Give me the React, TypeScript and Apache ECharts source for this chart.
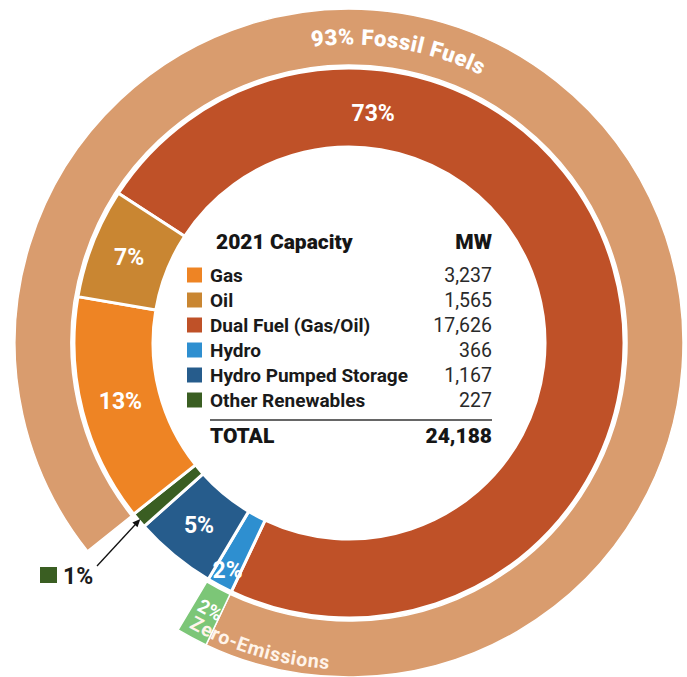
import React, { useEffect, useRef } from 'react';
import * as echarts from 'echarts';

// ---- data (clockwise order of the inner ring, starting with Dual Fuel) ----
const categories = ['Dual Fuel (Gas/Oil)', 'Hydro', 'Hydro Pumped Storage', 'Other Renewables', 'Gas', 'Oil'];
const capacityMW = [17626, 366, 1167, 227, 3237, 1565];
const percentLabels = ['73%', '2%', '5%', '1%', '13%', '7%'];
const sliceColors = ['#BF5128', '#2E8FD0', '#265C8C', '#3A5E22', '#EE8424', '#C98632'];

// table (legend) order and its printed values
const tableOrder = ['Gas', 'Oil', 'Dual Fuel (Gas/Oil)', 'Hydro', 'Hydro Pumped Storage', 'Other Renewables'];
const tableValues = ['3,237', '1,565', '17,626', '366', '1,167', '227'];
const tableTitle = '2021 Capacity';
const tableUnit = 'MW';
const totalText = 'TOTAL';
const totalValue = '24,188';

// outer ring groups
const fossilGroup = ['Gas', 'Oil', 'Dual Fuel (Gas/Oil)'];
const zeroGroup = ['Hydro'];
const fossilLabel = '93% Fossil Fuels';
const zeroPctLabel = '2%';
const zeroLabel = 'Zero-Emissions';

// ---- layout ----
const W = 687, H = 677;
const CX = 349, CY = 343;
const INNER: [number, number] = [196, 275];
const OUTER: [number, number] = [278, 334];
const START = 147;
const FONT = 'Roboto';

const deg = (d: number) => (d * Math.PI) / 180;
const polar = (r: number, a: number): [number, number] => [CX + r * Math.cos(deg(a)), CY - r * Math.sin(deg(a))];

let measureCtx: CanvasRenderingContext2D | null = null;
function measure(text: string, size: number, weight: string | number) {
  if (!measureCtx) measureCtx = document.createElement('canvas').getContext('2d');
  measureCtx!.font = `${weight} ${size}px ${FONT}`;
  return measureCtx!.measureText(text).width;
}

function arcText(text: string, centerDeg: number, r: number, size: number, weight: string | number, color: string, mode: 'top' | 'bottom', spacing = 0) {
  const chars = Array.from(text);
  const widths = chars.map((ch) => measure(ch, size, weight) + spacing);
  const total = widths.reduce((a, b) => a + b, 0);
  const c = deg(centerDeg);
  const els: any[] = [];
  let acc = 0;
  chars.forEach((ch, i) => {
    const off = (acc + widths[i] / 2 - total / 2) / r;
    acc += widths[i];
    if (ch === ' ') return;
    const a = mode === 'top' ? c - off : c + off;
    const rot = mode === 'top' ? a - Math.PI / 2 : a + Math.PI / 2;
    els.push({
      type: 'text',
      x: CX + r * Math.cos(a),
      y: CY - r * Math.sin(a),
      rotation: rot,
      silent: true,
      z: 10,
      style: {
        text: ch, fill: color, fontSize: size, fontWeight: weight, fontFamily: FONT,
        align: 'center', verticalAlign: 'middle', textAlign: 'center', textVerticalAlign: 'middle',
      },
    });
  });
  return els;
}

function txt(text: string, x: number, y: number, size: number, weight: string | number, color: string, align = 'left') {
  return {
    type: 'text', x, y, silent: true, z: 10,
    style: {
      text, fill: color, fontSize: size, fontWeight: weight, fontFamily: FONT,
      align, verticalAlign: 'middle', textAlign: align, textVerticalAlign: 'middle',
    },
  };
}

export default function App() {
  const ref = useRef<HTMLDivElement>(null);

  useEffect(() => {
    if (!ref.current) return;
    const chart = echarts.init(ref.current, undefined, { renderer: 'svg' });

    const total = capacityMW.reduce((a, b) => a + b, 0);
    const valueOf = (n: string) => capacityMW[categories.indexOf(n)];
    const colorOf = (n: string) => sliceColors[categories.indexOf(n)];

    // slice mid angles from the data
    let acc = 0;
    const mids = capacityMW.map((v) => {
      const s = START - (acc / total) * 360;
      acc += v;
      const e = START - (acc / total) * 360;
      return (s + e) / 2;
    });

    // outer ring: start at the first fossil slice (Gas) going clockwise
    const gasIdx = categories.indexOf('Gas');
    const before = capacityMW.slice(0, gasIdx).reduce((a, b) => a + b, 0);
    const outerStart = START - (before / total) * 360;
    const fossilSum = fossilGroup.reduce((a, n) => a + valueOf(n), 0);
    const zeroSum = zeroGroup.reduce((a, n) => a + valueOf(n), 0);
    const restSum = total - fossilSum - zeroSum;

    // inner percent labels (positions)
    const labelAngle: (number | null)[] = [84, null, null, null, null, null];
    const labelRadius = [231, 258, 236, 0, 236, 236];
    const graphics: any[] = [];
    percentLabels.forEach((p, i) => {
      if (i === 3) return;
      const [x, y] = polar(labelRadius[i], labelAngle[i] ?? mids[i]);
      graphics.push(txt(p, x, y, 23, 'bold', '#ffffff', 'center'));
    });

    // callout for Other Renewables
    const [tx, ty] = polar(273, mids[3]);
    const ex = 97, ey = 566;
    const dx = tx - ex, dy = ty - ey;
    const len = Math.hypot(dx, dy);
    const ux = dx / len, uy = dy / len;
    graphics.push({ type: 'line', silent: true, z: 10, shape: { x1: ex, y1: ey, x2: tx - ux * 4, y2: ty - uy * 4 }, style: { stroke: '#111', lineWidth: 1.3 } });
    graphics.push({
      type: 'polygon', silent: true, z: 10,
      shape: { points: [[tx, ty], [tx - ux * 8 - uy * 3.5, ty - uy * 8 + ux * 3.5], [tx - ux * 8 + uy * 3.5, ty - uy * 8 - ux * 3.5]] },
      style: { fill: '#111' },
    });
    graphics.push({ type: 'rect', silent: true, z: 10, shape: { x: 40, y: 567, width: 17, height: 16 }, style: { fill: sliceColors[3] } });
    graphics.push(txt(percentLabels[3], 63, 576, 23, 'bold', '#1c1c1c', 'left'));

    // curved outer labels
    graphics.push(...arcText(fossilLabel, 80.5, 306, 22, 900, '#ffffff', 'top', 0.8));
    graphics.push(...arcText(zeroPctLabel, 242.5, 301, 19, 'bold', '#ffffff', 'bottom'));
    graphics.push(...arcText(zeroLabel, 253.5, 320, 19.5, 'bold', '#FFF4EA', 'bottom', 0.5));

    // center table
    const left = 210, right = 492, sqX = 187;
    graphics.push(txt(tableTitle, 216, 242, 21, 900, '#161616', 'left'));
    graphics.push(txt(tableUnit, right, 242, 21, 900, '#161616', 'right'));
    tableOrder.forEach((n, i) => {
      const y = 275 + i * 25;
      graphics.push({ type: 'rect', silent: true, z: 10, shape: { x: sqX, y: y - 7.5, width: 15, height: 15 }, style: { fill: colorOf(n) } });
      graphics.push(txt(n, left, y, 19, 'bold', '#1a1a1a', 'left'));
      graphics.push(txt(tableValues[i], right, y, 19.5, 'normal', '#2a2a2a', 'right'));
    });
    graphics.push({ type: 'line', silent: true, z: 10, shape: { x1: left, y1: 420, x2: right, y2: 420 }, style: { stroke: '#333', lineWidth: 1.5 } });
    graphics.push(txt(totalText, left, 436, 21, 900, '#161616', 'left'));
    graphics.push(txt(totalValue, right, 436, 21, 900, '#161616', 'right'));

    chart.setOption({
      animation: false,
      backgroundColor: '#ffffff',
      series: [
        {
          type: 'pie',
          center: [CX, CY],
          radius: OUTER,
          startAngle: outerStart,
          clockwise: true,
          silent: true,
          label: { show: false },
          labelLine: { show: false },
          itemStyle: { borderColor: '#ffffff', borderWidth: 1.5 },
          data: [
            { name: 'Fossil Fuels', value: fossilSum, itemStyle: { color: '#D99C6E' } },
            { name: 'Zero-Emissions', value: zeroSum, itemStyle: { color: '#7CC677' } },
            { name: 'Other', value: restSum, itemStyle: { color: 'rgba(0,0,0,0)', borderWidth: 0 } },
          ],
        },
        {
          type: 'pie',
          center: [CX, CY],
          radius: INNER,
          startAngle: START,
          clockwise: true,
          silent: true,
          label: { show: false },
          labelLine: { show: false },
          itemStyle: { borderColor: '#ffffff', borderWidth: 3 },
          data: categories.map((n, i) => ({ name: n, value: capacityMW[i], itemStyle: { color: sliceColors[i] } })),
        },
      ],
      graphic: { elements: graphics },
    });

    return () => chart.dispose();
  }, []);

  return <div ref={ref} style={{ position: 'absolute', left: 0, top: 0, width: W, height: H }} />;
}
